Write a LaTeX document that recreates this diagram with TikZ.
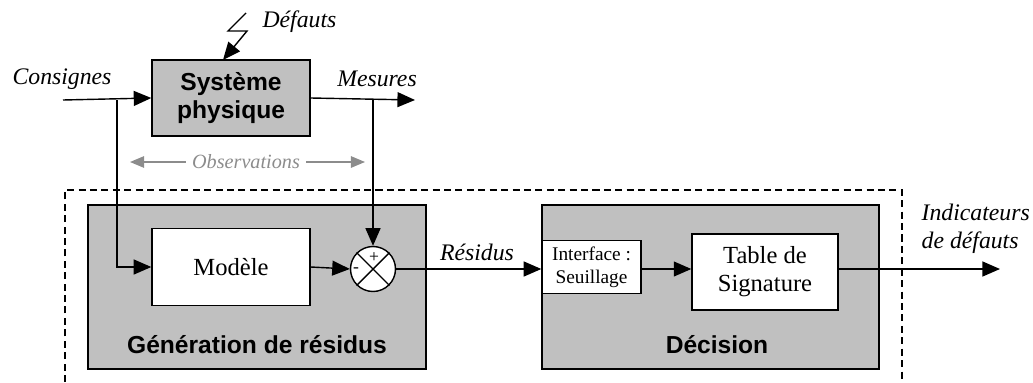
\documentclass[tikz,border=0pt]{standalone}
\usepackage{fontspec}
\setmainfont{Liberation Serif}
\setsansfont{Liberation Sans}
\usetikzlibrary{arrows.meta,positioning}
\definecolor{bloc}{HTML}{C0C0C0}
\definecolor{obsgray}{HTML}{8C8C8C}

\begin{document}
\begin{tikzpicture}[x=0.02cm,y=-0.02cm,line width=0.8pt,
    fl/.style={-{Triangle[length=10pt,width=8.5pt]}},
    lbl/.style={font=\fontsize{13.5}{16}\selectfont\itshape},
    grosbloc/.style={draw,fill=bloc,inner sep=0pt},
    boite/.style={draw,fill=white,align=center,inner sep=0pt,font=\fontsize{14}{16}\selectfont},
    titre/.style={font=\fontsize{14}{16}\selectfont\sffamily\bfseries,align=center}
  ]
    \useasboundingbox (0,0) rectangle (1033,382);

    % zone de diagnostic
    \draw[dash pattern=on 4pt off 2.5pt] (65,382) -- (65,190) -- (902,190) -- (902,382);

    % blocs
    \path
    (231,98) node[grosbloc,titre,minimum width=3.16cm,minimum height=1.52cm] (sys) {Syst\`eme\\physique}
    (257,287) node[grosbloc,minimum width=6.76cm,minimum height=3.28cm] (gen) {}
    (710.5,287) node[grosbloc,minimum width=6.74cm,minimum height=3.28cm] (dec) {}
    ;
    \path
    (231,267) node[boite,minimum width=3.16cm,minimum height=1.54cm] (mod) {Mod\`ele}
    (373,269) node[draw,fill=white,circle,minimum size=0.9cm,inner sep=0pt] (sum) {}
    (591.5,267) node[boite,minimum width=1.98cm,minimum height=1.06cm,font=\fontsize{11}{13}\selectfont] (intf) {Interface :\\Seuillage}
    (765,272) node[boite,minimum width=2.92cm,minimum height=1.52cm] (tab) {Table de\\Signature}
    ;
    \draw (sum.north west) -- (sum.south east);
    \draw (sum.north east) -- (sum.south west);
    \node[font=\fontsize{10}{10}\selectfont] at (374,258) (plus) {+};
    \node[font=\fontsize{10}{10}\selectfont] at (356,270) (moins) {-};

    \node[titre] at (257,345) (gentxt) {G\'en\'eration de r\'esidus};
    \node[titre] at (717,345) (dectxt) {D\'ecision};

    % entrees / sorties
    \path
    (63,100) coordinate (cin)
    (117,100) coordinate (cbr)
    (373,100) coordinate (mbr)
    (415,100) coordinate (mout)
    (1000,269) coordinate (iout)
    ;
    \node[lbl] at (62,79) (cons) {Consignes};
    \node[lbl] at (377,79) (mes) {Mesures};
    \node[lbl] at (477,252) (res) {R\'esidus};
    \node[lbl,align=left,anchor=west,inner sep=0pt] at (921,229) (ind) {Indicateurs\\de d\'efauts};

    \draw[fl] (cin) -- (sys.west);
    \draw[fl] (sys.east) -- (mout);
    \draw[fl] (cbr) |- (mod.west);
    \draw[fl] (mbr) -- (sum.north);
    \draw[fl] (mod.east) -- (sum.west);
    \draw[fl] (sum.east) -- (intf.west |- sum.east);
    \draw[fl] (intf.east |- sum.east) -- (tab.west |- sum.east);
    \draw[fl] (tab.east |- sum.east) -- (iout);

    % defauts
    \path
    (246,13) coordinate (d1)
    (228,31) coordinate (d2)
    (247,31) coordinate (d3)
    (223,60) coordinate (d4)
    ;
    \draw[fl] (d1) -- (d2) -- (d3) -- (d4);
    \node[lbl,anchor=west] at (256,22) (def) {D\'efauts};

    % observations
    \node[font=\fontsize{11.5}{12}\selectfont\itshape,text=obsgray] at (246,162) (obs) {Observations};
    \path (130,162) coordinate (obsg) (365,162) coordinate (obsd);
    \draw[obsgray,-{Triangle[length=8pt,width=6.5pt]}] (obs.west) -- (obsg);
    \draw[obsgray,-{Triangle[length=8pt,width=6.5pt]}] (obs.east) -- (obsd);
\end{tikzpicture}
\end{document}
